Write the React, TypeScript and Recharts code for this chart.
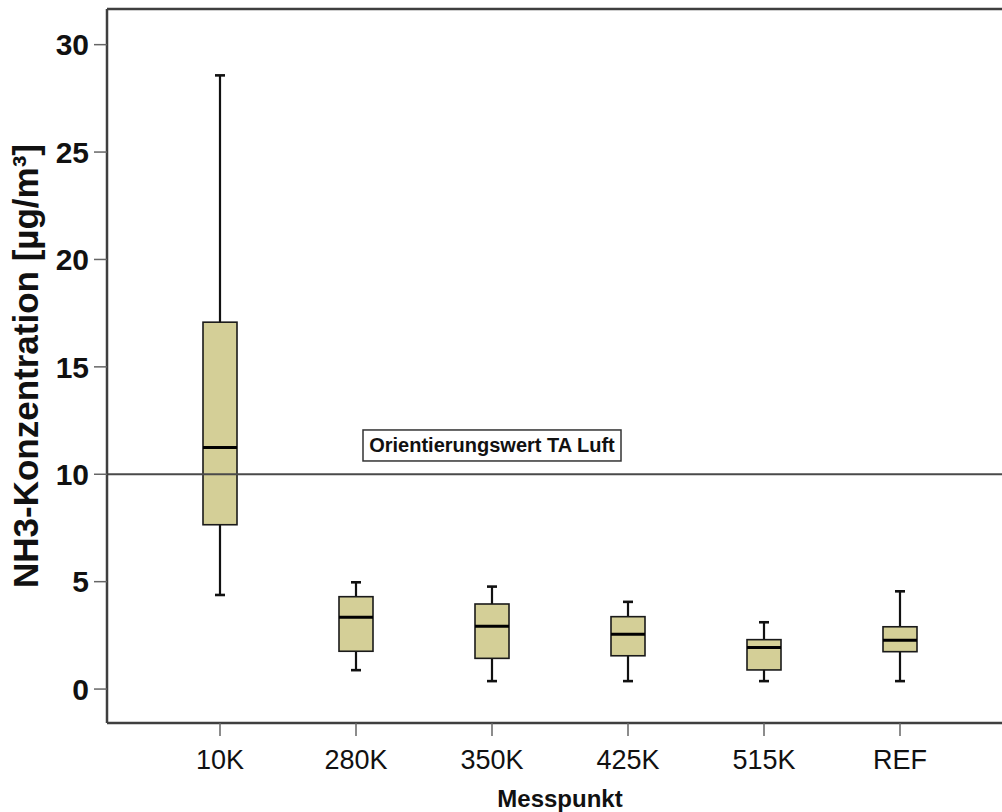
import React from "react";
import {
  ComposedChart,
  Bar,
  XAxis,
  YAxis,
  ReferenceLine,
  ReferenceDot,
  Label,
} from "recharts";

// box plot statistics per measuring point
const categories = ["10K", "280K", "350K", "425K", "515K", "REF"];
const minValues = [4.38, 0.88, 0.37, 0.37, 0.37, 0.37];
const q1Values = [7.65, 1.76, 1.43, 1.55, 0.89, 1.74];
const medianValues = [11.24, 3.34, 2.92, 2.55, 1.93, 2.27];
const q3Values = [17.08, 4.3, 3.96, 3.37, 2.3, 2.9];
const maxValues = [28.57, 4.97, 4.77, 4.06, 3.11, 4.55];

const yTicks = [0, 5, 10, 15, 20, 25, 30];
const yMin = -1.58;
const yMax = 31.66;
const guideValue = 10;
const guideLabel = "Orientierungswert TA Luft";
const guideLabelCategory = "350K";
const guideLabelValue = 11.34;

const data = categories.map((name, i) => ({
  name,
  min: minValues[i],
  q1: q1Values[i],
  median: medianValues[i],
  q3: q3Values[i],
  max: maxValues[i],
}));

const FONT = "'Liberation Sans', Arial, sans-serif";
const AXIS = "#3f3f3f";
const BOX_FILL = "#d4cf97";

// draws whisker, box and median from the range bar [min, max]
function BoxShape(props: any) {
  const { x, y, width, height, payload } = props;
  const { min, q1, median, q3, max } = payload;
  const ppu = height / (max - min);
  const toY = (v: number) => y + (max - v) * ppu;
  const cx = x + width / 2;
  const cap = 5;
  return (
    <g>
      <line x1={cx} x2={cx} y1={toY(max)} y2={toY(min)} stroke="#111" strokeWidth={2.2} />
      <line x1={cx - cap} x2={cx + cap} y1={toY(max)} y2={toY(max)} stroke="#111" strokeWidth={2.6} />
      <line x1={cx - cap} x2={cx + cap} y1={toY(min)} y2={toY(min)} stroke="#111" strokeWidth={2.6} />
      <rect
        x={x}
        y={toY(q3)}
        width={width}
        height={toY(q1) - toY(q3)}
        fill={BOX_FILL}
        stroke="#1a1a1a"
        strokeWidth={1.6}
      />
      <line x1={x} x2={x + width} y1={toY(median)} y2={toY(median)} stroke="#000" strokeWidth={3} />
    </g>
  );
}

function GuideLabel(props: any) {
  const { cx, cy } = props;
  return (
    <g>
      <rect x={cx - 129} y={cy - 15.5} width={258} height={31} fill="#fff" stroke="#333" strokeWidth={1.5} />
      <text
        x={cx}
        y={cy}
        textAnchor="middle"
        dominantBaseline="central"
        fontFamily={FONT}
        fontWeight="bold"
        fontSize={20}
        fill="#111"
      >
        {guideLabel}
      </text>
    </g>
  );
}

export default function App() {
  return (
    <div
      style={{
        position: "absolute",
        left: 0,
        top: 0,
        width: 1002,
        height: 812,
        overflow: "hidden",
        background: "#fff",
      }}
    >
      <ComposedChart
        width={1020}
        height={812}
        data={data}
        margin={{ top: 9, right: 7, bottom: 0, left: 0 }}
      >
        <XAxis
          dataKey="name"
          height={89}
          padding={{ left: 45, right: 45 }}
          axisLine={{ stroke: AXIS, strokeWidth: 2.5 }}
          tickLine={{ stroke: "#666", strokeWidth: 1.5 }}
          tickSize={13}
          tickMargin={14}
          tick={{ fill: "#111", fontSize: 27, fontFamily: FONT }}
        >
          <Label
            content={({ viewBox }: any) => (
              <text
                x={viewBox.x + viewBox.width / 2}
                y={viewBox.y + 84}
                textAnchor="middle"
                fontFamily={FONT}
                fontWeight="bold"
                fontSize={24}
                fill="#111"
              >
                Messpunkt
              </text>
            )}
          />
        </XAxis>
        <YAxis
          width={107}
          domain={[yMin, yMax]}
          ticks={yTicks}
          allowDataOverflow
          axisLine={{ stroke: AXIS, strokeWidth: 2.5 }}
          tickLine={{ stroke: "#666", strokeWidth: 1.5 }}
          tickSize={13}
          tickMargin={5}
          tick={{ fill: "#111", fontSize: 30, fontWeight: "bold", fontFamily: FONT }}
        >
          <Label
            content={({ viewBox }: any) => {
              const lx = viewBox.x + 25;
              const ly = viewBox.y + viewBox.height / 2;
              return (
                <text
                  x={lx}
                  y={ly}
                  transform={`rotate(-90, ${lx}, ${ly})`}
                  textAnchor="middle"
                  dominantBaseline="central"
                  fontFamily={FONT}
                  fontWeight="bold"
                  fontSize={35}
                  fill="#111"
                >
                  NH3-Konzentration [µg/m³]
                </text>
              );
            }}
          />
        </YAxis>
        <Bar
          dataKey={(d: any) => [d.min, d.max]}
          barSize={34}
          shape={BoxShape}
          isAnimationActive={false}
        />
        {/* top frame of the plot area */}
        <ReferenceLine y={yMax} stroke={AXIS} strokeWidth={2.5} />
        <ReferenceLine y={guideValue} stroke="#4a4a4a" strokeWidth={2} />
        <ReferenceDot
          x={guideLabelCategory}
          y={guideLabelValue}
          r={0}
          shape={GuideLabel}
        />
      </ComposedChart>
    </div>
  );
}
